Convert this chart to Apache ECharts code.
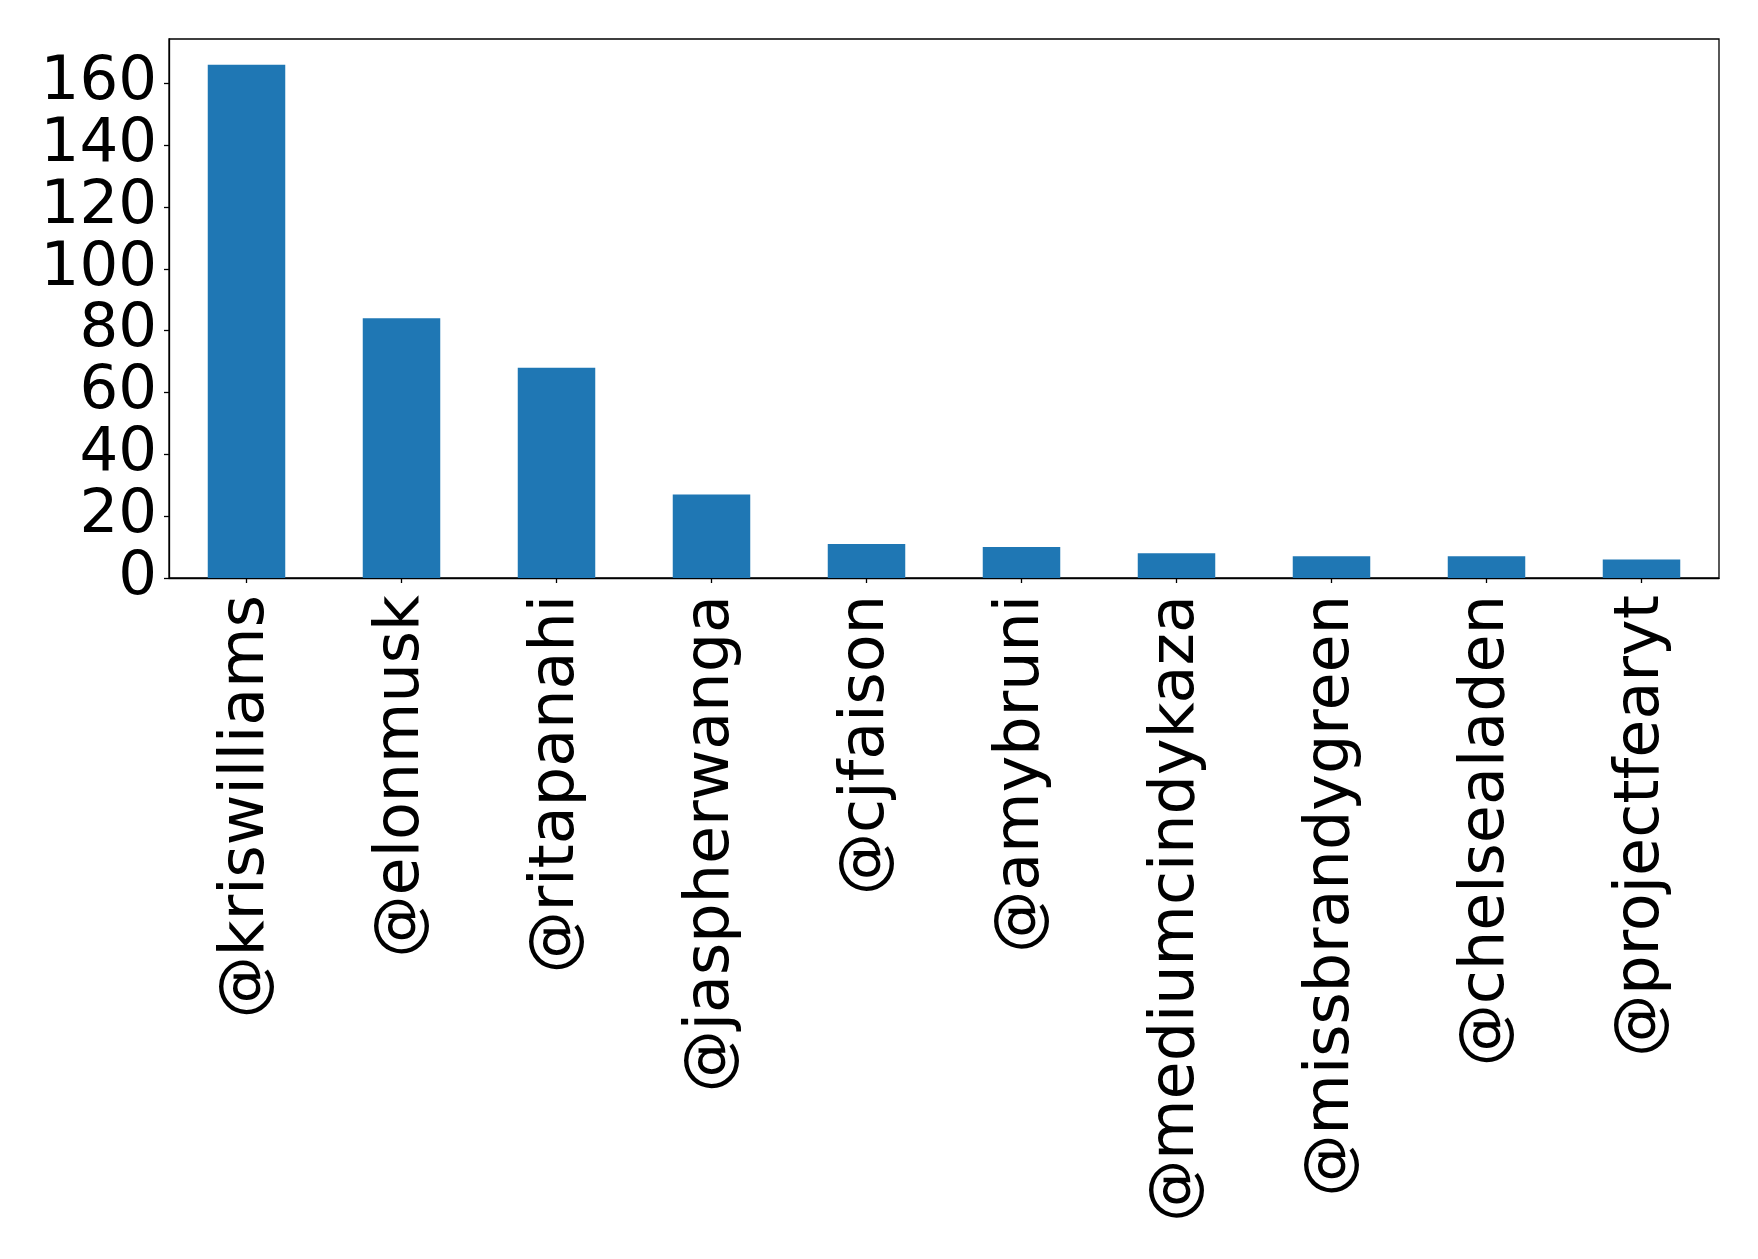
<!DOCTYPE html>
<html>
<head>
<meta charset="utf-8">
<script src="https://cdn.jsdelivr.net/npm/echarts@6/dist/echarts.min.js"></script>
<style>
html,body{margin:0;padding:0;background:#fff;}
#chart{width:1758px;height:1259px;}
</style>
</head>
<body>
<div id="chart"></div>
<script>
var categories = ['@kriswilliams','@elonmusk','@ritapanahi','@jaspherwanga','@cjfaison','@amybruni','@mediumcindykaza','@missbrandygreen','@chelsealaden','@projectfearyt'];
var values = [166, 84, 68, 27, 11, 10, 8, 7, 7, 6];
var yTicks = [0, 20, 40, 60, 80, 100, 120, 140, 160];

var chart = echarts.init(document.getElementById('chart'), null, {renderer: 'canvas'});
var yMax = Math.max.apply(null, values) * 1.05;
chart.setOption({
  animation: false,
  grid: {left: 169, right: 39, top: 39, bottom: 681, show: true, borderColor: '#000', borderWidth: 1.3, backgroundColor: 'transparent'},
  xAxis: {
    type: 'category',
    data: categories,
    boundaryGap: true,
    axisLine: {show: true, lineStyle: {color: '#000', width: 1.3}},
    axisTick: {show: true, alignWithLabel: true, length: 5, lineStyle: {color: '#000', width: 1.3}},
    axisLabel: {rotate: 90, margin: 17, fontSize: 62, fontFamily: 'DejaVu Sans', color: '#000', interval: 0, padding: [9, 0, 0, 0]}
  },
  yAxis: {
    type: 'value',
    min: 0,
    max: yMax,
    splitLine: {show: false},
    axisLine: {show: true, lineStyle: {color: '#000', width: 1.3}},
    axisTick: {show: true, length: 5, lineStyle: {color: '#000', width: 1.3}, customValues: yTicks},
    axisLabel: {fontSize: 61, fontFamily: 'DejaVu Sans', color: '#000', margin: 12, customValues: yTicks}
  },
  series: [{
    type: 'bar',
    data: values,
    barWidth: '50%',
    itemStyle: {color: '#1f77b4'}
  }]
});
</script>
</body>
</html>
